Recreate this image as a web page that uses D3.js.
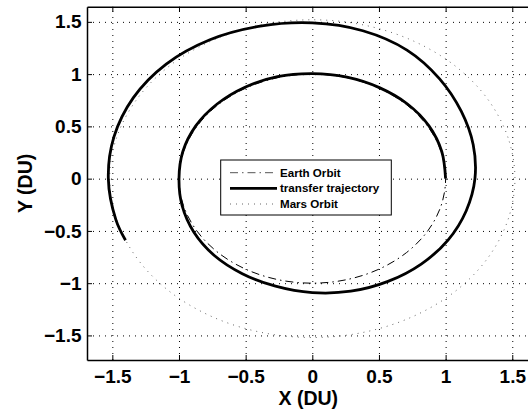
<!DOCTYPE html>
<html>
<head>
<meta charset="utf-8">
<script src="https://cdn.jsdelivr.net/npm/d3@7"></script>
<style>
  html, body { margin: 0; padding: 0; background: #fff; }
  svg { display: block; }
  text { font-family: "Liberation Sans", Arial, Helvetica, sans-serif; font-weight: bold; }
</style>
</head>
<body>
<svg id="chart" width="528" height="413"></svg>
<script>
// ---- data ----
const tickValues = [-1.5, -1, -0.5, 0, 0.5, 1, 1.5];
const tickLabels = ["\u22121.5", "\u22121", "\u22120.5", "0", "0.5", "1", "1.5"];

// Earth orbit (dash-dot), closed curve
const earthX = [1.000, 0.966, 0.866, 0.707, 0.500, 0.259, 0.000, -0.259, -0.500, -0.707, -0.866, -0.966,
                -1.000, -0.966, -0.866, -0.707, -0.500, -0.259, 0.000, 0.259, 0.500, 0.707, 0.866, 0.966];
const earthY = [0.000, 0.259, 0.500, 0.707, 0.866, 0.966, 1.000, 0.966, 0.866, 0.707, 0.500, 0.259,
                0.000, -0.259, -0.500, -0.707, -0.866, -0.966, -1.000, -0.966, -0.866, -0.707, -0.500, -0.259];

// Mars orbit (dotted), closed curve
const marsX = [1.520, 1.468, 1.316, 1.075, 0.760, 0.393, 0.000, -0.393, -0.760, -1.075, -1.316, -1.468,
               -1.520, -1.468, -1.316, -1.075, -0.760, -0.393, 0.000, 0.393, 0.760, 1.075, 1.316, 1.468];
const marsY = [0.000, 0.393, 0.760, 1.075, 1.316, 1.468, 1.520, 1.468, 1.316, 1.075, 0.760, 0.393,
               0.000, -0.393, -0.760, -1.075, -1.316, -1.468, -1.520, -1.468, -1.316, -1.075, -0.760, -0.393];

// Transfer trajectory (solid, thick), open spiral starting at Earth (1, 0)
const transferX = [1.000, 0.971, 0.875, 0.714, 0.503, 0.260, 0.000, -0.261, -0.505, -0.714, -0.874, -0.971,
                   -1.000, -0.976, -0.888, -0.735, -0.525, -0.276, 0.000, 0.289, 0.568, 0.817, 1.018, 1.154,
                   1.220, 1.207, 1.117, 0.955, 0.710, 0.379, 0.000, -0.391, -0.768, -1.096, -1.342, -1.488,
                   -1.530, -1.473, -1.401];
const transferY = [0.000, 0.260, 0.505, 0.714, 0.871, 0.971, 1.005, 0.976, 0.875, 0.714, 0.505, 0.260,
                   0.000, -0.261, -0.513, -0.735, -0.909, -1.029, -1.090, -1.077, -0.983, -0.817, -0.588, -0.309,
                   0.000, 0.324, 0.645, 0.955, 1.230, 1.415, 1.490, 1.459, 1.329, 1.096, 0.775, 0.399,
                   0.000, -0.395, -0.590];

const legendLabels = ["Earth Orbit", "transfer trajectory", "Mars Orbit"];
const xLabel = "X (DU)";
const yLabel = "Y (DU)";

// ---- layout ----
const svg = d3.select("#chart");
const L = 87, R = 537.6, T = 6.7, B = 360;
const x = d3.scaleLinear().domain([-1.69, 1.69]).range([L, R]);
const y = d3.scaleLinear().domain([-1.735, 1.645]).range([B, T]);

// grid
const gridX = svg.append("g").attr("transform", `translate(0,${B})`)
  .call(d3.axisBottom(x).tickValues(tickValues).tickSize(-(B - T)).tickFormat(""));
const gridY = svg.append("g").attr("transform", `translate(${L},0)`)
  .call(d3.axisLeft(y).tickValues(tickValues).tickSize(-(R - L)).tickFormat(""));
[gridX, gridY].forEach(g => {
  g.select(".domain").remove();
  g.selectAll(".tick line").attr("stroke", "#000").attr("stroke-width", 1)
    .attr("stroke-dasharray", "1,5");
});

const toPts = (xs, ys) => xs.map((v, i) => [x(v), y(ys[i])]);

svg.append("clipPath").attr("id", "clip")
  .append("rect").attr("x", L).attr("y", T).attr("width", R - L).attr("height", B - T);
const plot = svg.append("g").attr("clip-path", "url(#clip)");

// Mars orbit
plot.append("path")
  .attr("d", d3.line().curve(d3.curveCatmullRomClosed.alpha(0.5))(toPts(marsX, marsY)))
  .attr("fill", "none").attr("stroke", "#666").attr("stroke-width", 1)
  .attr("stroke-dasharray", "1,5");

// Earth orbit
plot.append("path")
  .attr("d", d3.line().curve(d3.curveCatmullRomClosed.alpha(0.5))(toPts(earthX, earthY)))
  .attr("fill", "none").attr("stroke", "#000").attr("stroke-width", 1)
  .attr("stroke-dasharray", "8,4,1.5,4");

// transfer trajectory
plot.append("path")
  .attr("d", d3.line().curve(d3.curveCatmullRom.alpha(0.5))(toPts(transferX, transferY)))
  .attr("fill", "none").attr("stroke", "#000").attr("stroke-width", 2.8)
  .attr("stroke-linejoin", "round");

// axes frame with inward ticks
const fmt = (d) => tickLabels[tickValues.indexOf(d)];
const axB = svg.append("g").attr("transform", `translate(0,${B})`)
  .call(d3.axisBottom(x).tickValues(tickValues).tickSizeInner(-5).tickSizeOuter(0).tickPadding(10).tickFormat(fmt));
const axT = svg.append("g").attr("transform", `translate(0,${T})`)
  .call(d3.axisTop(x).tickValues(tickValues).tickSizeInner(-5).tickSizeOuter(0).tickFormat(""));
const axL = svg.append("g").attr("transform", `translate(${L},0)`)
  .call(d3.axisLeft(y).tickValues(tickValues).tickSizeInner(-5).tickSizeOuter(0).tickPadding(5.5).tickFormat(fmt));
[axB, axT, axL].forEach(g => {
  g.select(".domain").attr("stroke", "#000").attr("stroke-width", 1.5);
  g.selectAll(".tick line").attr("stroke", "#000").attr("stroke-width", 1);
  g.selectAll(".tick text").attr("fill", "#000").style("font-size", "19px")
    .style("font-family", "'Liberation Sans', Arial, sans-serif").style("font-weight", "bold");
});
axB.selectAll(".tick text").attr("dy", "0.71em");

// axis labels
svg.append("text").attr("x", (L + R) / 2 - 4).attr("y", 405)
  .attr("text-anchor", "middle").style("font-size", "19.5px").text(xLabel);
svg.append("text").attr("transform", `translate(32,${(T + B) / 2}) rotate(-90)`)
  .attr("text-anchor", "middle").style("font-size", "19.5px").text(yLabel);

// legend
const lg = svg.append("g");
lg.append("rect").attr("x", 220.7).attr("y", 160).attr("width", 170.6).attr("height", 55)
  .attr("fill", "#fff").attr("stroke", "#000").attr("stroke-width", 1);
const rowsY = [172.7, 188.3, 204];
const styles = [
  { stroke: "#555", w: 1, dash: "8,4,1.5,4" },
  { stroke: "#000", w: 2.8, dash: null },
  { stroke: "#666", w: 1, dash: "1,5" }
];
legendLabels.forEach((lab, i) => {
  const ln = lg.append("line").attr("x1", 230).attr("x2", 277).attr("y1", rowsY[i]).attr("y2", rowsY[i])
    .attr("stroke", styles[i].stroke).attr("stroke-width", styles[i].w);
  if (styles[i].dash) ln.attr("stroke-dasharray", styles[i].dash);
  lg.append("text").attr("x", 280).attr("y", rowsY[i]).attr("dy", "0.35em")
    .style("font-size", "11.6px").text(lab);
});
</script>
</body>
</html>
